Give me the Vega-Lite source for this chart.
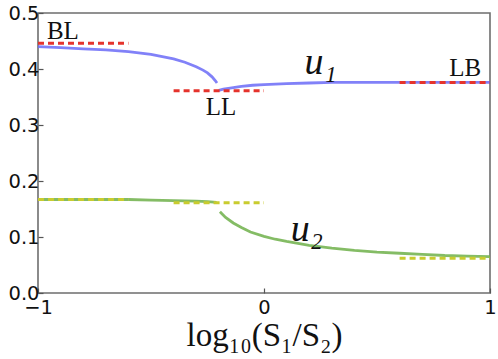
{
  "$schema": "https://vega.github.io/schema/vega-lite/v6.json",
  "width": 452,
  "height": 280,
  "autosize": {"type": "none"},
  "padding": {"left": 38, "top": 13, "right": 8, "bottom": 66},
  "background": "white",
  "config": {
    "view": {"stroke": "#6e6e6e", "strokeWidth": 1.6},
    "axis": {
      "domain": false,
      "grid": false,
      "tickColor": "#555555",
      "tickSize": -5,
      "tickWidth": 1.2,
      "labelFont": "DejaVu Sans",
      "labelFontSize": 19.5,
      "labelColor": "#111",
      "titleFont": "Liberation Serif",
      "titleFontSize": 33,
      "titleFontWeight": "normal",
      "titleColor": "#111"
    }
  },
  "datasets": {
    "curves": [
      {"seg": "u1a", "curve": "u1", "x": -1.0, "y": 0.440},
      {"seg": "u1a", "curve": "u1", "x": -0.9, "y": 0.438},
      {"seg": "u1a", "curve": "u1", "x": -0.8, "y": 0.436},
      {"seg": "u1a", "curve": "u1", "x": -0.7, "y": 0.434},
      {"seg": "u1a", "curve": "u1", "x": -0.6, "y": 0.431},
      {"seg": "u1a", "curve": "u1", "x": -0.5, "y": 0.426},
      {"seg": "u1a", "curve": "u1", "x": -0.45, "y": 0.422},
      {"seg": "u1a", "curve": "u1", "x": -0.4, "y": 0.418},
      {"seg": "u1a", "curve": "u1", "x": -0.35, "y": 0.412},
      {"seg": "u1a", "curve": "u1", "x": -0.3, "y": 0.404},
      {"seg": "u1a", "curve": "u1", "x": -0.27, "y": 0.398},
      {"seg": "u1a", "curve": "u1", "x": -0.25, "y": 0.393},
      {"seg": "u1a", "curve": "u1", "x": -0.23, "y": 0.386},
      {"seg": "u1a", "curve": "u1", "x": -0.215, "y": 0.379},
      {"seg": "u1a", "curve": "u1", "x": -0.208, "y": 0.375},
      {"seg": "u1b", "curve": "u1", "x": -0.2, "y": 0.362},
      {"seg": "u1b", "curve": "u1", "x": -0.18, "y": 0.364},
      {"seg": "u1b", "curve": "u1", "x": -0.15, "y": 0.366},
      {"seg": "u1b", "curve": "u1", "x": -0.1, "y": 0.369},
      {"seg": "u1b", "curve": "u1", "x": -0.05, "y": 0.371},
      {"seg": "u1b", "curve": "u1", "x": 0.0, "y": 0.372},
      {"seg": "u1b", "curve": "u1", "x": 0.1, "y": 0.374},
      {"seg": "u1b", "curve": "u1", "x": 0.2, "y": 0.375},
      {"seg": "u1b", "curve": "u1", "x": 0.3, "y": 0.376},
      {"seg": "u1b", "curve": "u1", "x": 0.5, "y": 0.376},
      {"seg": "u1b", "curve": "u1", "x": 0.7, "y": 0.376},
      {"seg": "u1b", "curve": "u1", "x": 1.0, "y": 0.376},
      {"seg": "u2a", "curve": "u2", "x": -1.0, "y": 0.167},
      {"seg": "u2a", "curve": "u2", "x": -0.8, "y": 0.167},
      {"seg": "u2a", "curve": "u2", "x": -0.6, "y": 0.167},
      {"seg": "u2a", "curve": "u2", "x": -0.5, "y": 0.166},
      {"seg": "u2a", "curve": "u2", "x": -0.4, "y": 0.165},
      {"seg": "u2a", "curve": "u2", "x": -0.3, "y": 0.164},
      {"seg": "u2a", "curve": "u2", "x": -0.25, "y": 0.163},
      {"seg": "u2a", "curve": "u2", "x": -0.21, "y": 0.162},
      {"seg": "u2b", "curve": "u2", "x": -0.195, "y": 0.145},
      {"seg": "u2b", "curve": "u2", "x": -0.17, "y": 0.135},
      {"seg": "u2b", "curve": "u2", "x": -0.136, "y": 0.125},
      {"seg": "u2b", "curve": "u2", "x": -0.1, "y": 0.117},
      {"seg": "u2b", "curve": "u2", "x": -0.06, "y": 0.109},
      {"seg": "u2b", "curve": "u2", "x": 0.0, "y": 0.101},
      {"seg": "u2b", "curve": "u2", "x": 0.05, "y": 0.096},
      {"seg": "u2b", "curve": "u2", "x": 0.1, "y": 0.092},
      {"seg": "u2b", "curve": "u2", "x": 0.2, "y": 0.085},
      {"seg": "u2b", "curve": "u2", "x": 0.3, "y": 0.080},
      {"seg": "u2b", "curve": "u2", "x": 0.4, "y": 0.076},
      {"seg": "u2b", "curve": "u2", "x": 0.5, "y": 0.073},
      {"seg": "u2b", "curve": "u2", "x": 0.6, "y": 0.071},
      {"seg": "u2b", "curve": "u2", "x": 0.7, "y": 0.069},
      {"seg": "u2b", "curve": "u2", "x": 0.8, "y": 0.067},
      {"seg": "u2b", "curve": "u2", "x": 0.9, "y": 0.066},
      {"seg": "u2b", "curve": "u2", "x": 1.0, "y": 0.065}
    ],
    "refs": [
      {"kind": "u1 limit", "x": -1.0, "x2": -0.6, "y": 0.446},
      {"kind": "u1 limit", "x": -0.4, "x2": 0.0, "y": 0.361},
      {"kind": "u1 limit", "x": 0.6, "x2": 1.0, "y": 0.376},
      {"kind": "u2 limit", "x": -1.0, "x2": -0.6, "y": 0.167},
      {"kind": "u2 limit", "x": -0.4, "x2": 0.0, "y": 0.161},
      {"kind": "u2 limit", "x": 0.6, "x2": 1.0, "y": 0.062}
    ],
    "labels": [
      {"text": "BL", "x": -0.89, "y": 0.467},
      {"text": "LL", "x": -0.19, "y": 0.332},
      {"text": "LB", "x": 0.89, "y": 0.401}
    ],
    "curvelabels": [
      {"text": "u₁", "x": 0.25, "y": 0.41},
      {"text": "u₂", "x": 0.19, "y": 0.113}
    ]
  },
  "encoding": {
    "x": {"field": "x", "type": "quantitative", "scale": {"domain": [-1, 1], "nice": false},
      "axis": {"values": [-1, 0, 1], "labelExpr": "datum.value == 0 ? '0' : datum.value < 0 ? '−1' : '1'", "labelOverlap": false, "labelFlush": false, "labelPadding": 10, "title": "log₁₀(S₁/S₂)", "titlePadding": 3}},
    "y": {"field": "y", "type": "quantitative", "scale": {"domain": [0, 0.5], "nice": false},
      "axis": {"values": [0, 0.1, 0.2, 0.3, 0.4, 0.5], "format": ".1f", "labelOverlap": false, "labelPadding": 4, "title": null}}
  },
  "layer": [
    {
      "data": {"name": "curves"},
      "mark": {"type": "line", "strokeWidth": 2.8, "opacity": 0.85},
      "encoding": {
        "detail": {"field": "seg"},
        "color": {"field": "curve", "type": "nominal", "scale": {"domain": ["u1", "u2"], "range": ["#6b6bf7", "#6fb04a"]}, "legend": null}
      }
    },
    {
      "data": {"name": "refs"},
      "mark": {"type": "rule", "strokeWidth": 3, "strokeDash": [6, 4]},
      "encoding": {
        "x2": {"field": "x2"},
        "color": {"field": "kind", "type": "nominal", "scale": {"domain": ["u1 limit", "u2 limit"], "range": ["#e5332c", "#c9cc2e"]}, "legend": null}
      }
    },
    {
      "data": {"name": "labels"},
      "mark": {"type": "text", "font": "Liberation Serif", "fontSize": 25, "color": "#111"},
      "encoding": {
        "text": {"field": "text"}
      }
    },
    {
      "data": {"name": "curvelabels"},
      "mark": {"type": "text", "font": "Liberation Serif", "fontStyle": "italic", "fontSize": 38, "color": "#111"},
      "encoding": {
        "text": {"field": "text"}
      }
    }
  ],
  "resolve": {"scale": {"color": "independent"}}
}
